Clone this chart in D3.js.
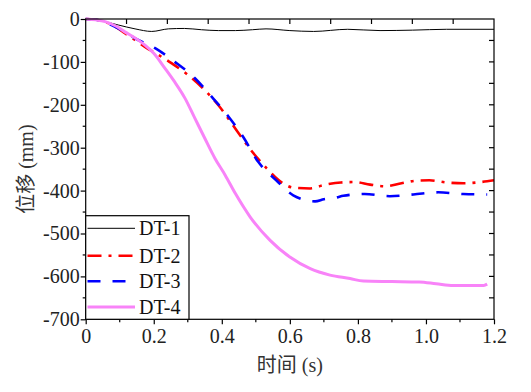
<!DOCTYPE html>
<html><head><meta charset="utf-8">
<script src="https://cdn.jsdelivr.net/npm/d3@7"></script>
<style>
body{margin:0;background:#fff;font-family:'Liberation Serif';}
svg{display:block;}
</style></head>
<body><svg id="c" width="531" height="392" font-family="Liberation Serif"></svg>
<script>
const xTicks=[0,0.2,0.4,0.6,0.8,1.0,1.2];
const yTicks=[0,-100,-200,-300,-400,-500,-600,-700];
const seriesNames=["DT-1","DT-2","DT-3","DT-4"];
const t1=[0,0.05,0.096,0.145,0.194,0.243,0.29,0.34,0.39,0.44,0.49,0.53,0.60,0.67,0.77,0.865,0.96,1.06,1.2];
const v1=[0,-5,-14,-23,-29,-23,-22,-25,-27,-27,-25,-23,-27,-29,-24,-27,-26,-24,-24];
const t2=[0,0.04,0.08,0.115,0.145,0.174,0.21,0.252,0.3,0.34,0.39,0.45,0.49,0.532,0.58,0.61,0.66,0.70,0.75,0.79,0.836,0.88,0.928,0.97,1.01,1.06,1.11,1.15,1.2];
const v2=[0,-3,-15,-33,-49,-65,-82,-103,-130,-158,-201,-267,-310,-348,-383,-393,-395,-387,-381,-380,-386,-390,-383,-377,-376,-381,-383,-381,-376];
const t3=[0,0.04,0.076,0.11,0.145,0.204,0.262,0.321,0.37,0.42,0.463,0.507,0.56,0.61,0.674,0.70,0.737,0.757,0.82,0.894,0.963,1.036,1.11,1.18];
const v3=[0,-3,-14,-28,-45,-68,-100,-138,-181,-228,-275,-333,-376,-411,-425,-420,-416,-412,-408,-413,-409,-404,-408,-409];
const t4=[0,0.03,0.057,0.09,0.115,0.145,0.174,0.2,0.233,0.26,0.292,0.32,0.35,0.38,0.41,0.44,0.483,0.542,0.60,0.66,0.718,0.777,0.816,0.9,0.98,1.03,1.08,1.17,1.18];
const v4=[0,-2,-6,-17,-30,-44,-61,-80,-115,-145,-185,-230,-278,-325,-364,-407,-461,-516,-555,-582,-597,-605,-611,-612,-613,-617,-621,-621,-618];

const L=85.7,R=494,T=19,B=319.3;
const svg=d3.select("#c");
const x=d3.scaleLinear().domain([0,1.2]).range([L,R]);
const y=d3.scaleLinear().domain([-700,0]).range([B,T]);

const styles=[
 {color:"#000000",w:1,dash:null},
 {color:"#ff0000",w:2.6,dash:"14,7,3,7"},
 {color:"#0000ff",w:2.6,dash:"13,12"},
 {color:"#f883f8",w:3,dash:null}
];
const data=[[t1,v1],[t2,v2],[t3,v3],[t4,v4]];
const line=d3.line().x(d=>x(d[0])).y(d=>y(d[1])).curve(d3.curveMonotoneX);
data.forEach((s,i)=>{
  const pts=s[0].map((t,j)=>[t,s[1][j]]);
  svg.append("path").attr("d",line(pts)).attr("fill","none")
   .attr("stroke",styles[i].color).attr("stroke-width",styles[i].w)
   .attr("stroke-dasharray",styles[i].dash);
});

svg.append("rect").attr("x",L).attr("y",T).attr("width",R-L).attr("height",B-T)
 .attr("fill","none").attr("stroke","#000").attr("stroke-width",1.2);

const fs=20;
const gx=svg.append("g").attr("transform",`translate(0,${B})`)
 .call(d3.axisBottom(x).tickValues(xTicks).tickSize(5).tickFormat(d=>d===0?"0":d.toFixed(1)));
gx.select(".domain").remove();
gx.attr("font-family","Liberation Serif").attr("font-size",fs);
gx.selectAll("text").attr("fill","#222").attr("dy","0.71em").attr("y",10);
gx.selectAll("line").attr("stroke-width",1.2);
const xMinor=d3.range(0.1,1.2,0.2);
svg.append("g").selectAll("line").data(xMinor).join("line")
 .attr("x1",d=>x(d)).attr("x2",d=>x(d)).attr("y1",B).attr("y2",B+3).attr("stroke","#000").attr("stroke-width",1.2);
const topT=d3.range(1,10).map(k=>k*0.12);
svg.append("g").selectAll("line").data(topT).join("line")
 .attr("x1",d=>x(d)).attr("x2",d=>x(d)).attr("y1",T).attr("y2",T+5).attr("stroke","#000").attr("stroke-width",1.2);

const gy=svg.append("g").attr("transform",`translate(${L},0)`)
 .call(d3.axisLeft(y).tickValues(yTicks).tickSize(5).tickFormat(d=>String(d)));
gy.select(".domain").remove();
gy.attr("font-family","Liberation Serif").attr("font-size",fs);
gy.selectAll("text").attr("fill","#222").attr("x",-6);
gy.selectAll("line").attr("stroke-width",1.2);
const yMinor=d3.range(-650,0,100);
svg.append("g").selectAll("line").data(yMinor).join("line")
 .attr("x1",L-3).attr("x2",L).attr("y1",d=>y(d)).attr("y2",d=>y(d)).attr("stroke","#000").attr("stroke-width",1.2);
const rT=d3.range(-650,0,50);
svg.append("g").selectAll("line").data(rT).join("line")
 .attr("x1",R-5).attr("x2",R).attr("y1",d=>y(d)).attr("y2",d=>y(d)).attr("stroke","#000").attr("stroke-width",1.2);

const xt=svg.append("text").attr("x",(L+R)/2).attr("y",372).attr("text-anchor","middle")
 .attr("font-size",20).attr("fill","#333");
xt.append("tspan").attr("font-family","Noto Sans CJK SC").text("时间");
xt.append("tspan").attr("font-family","Liberation Serif").text(" (s)");
const yt=svg.append("text").attr("transform",`translate(33,${(T+B)/2}) rotate(-90)`).attr("text-anchor","middle")
 .attr("font-size",20).attr("fill","#333");
yt.append("tspan").attr("font-family","Noto Sans CJK SC").text("位移");
yt.append("tspan").attr("font-family","Liberation Serif").text(" (mm)");

const lg=svg.append("g").attr("font-family","Liberation Serif").attr("font-size",20);
lg.append("rect").attr("x",L).attr("y",215.7).attr("width",189-L).attr("height",B-215.7)
 .attr("fill","#fff").attr("stroke","#000").attr("stroke-width",1.2);
const ly=[228.3,255.7,281.3,307];
seriesNames.forEach((n,i)=>{
  lg.append("line").attr("x1",87.5).attr("x2",135).attr("y1",ly[i]).attr("y2",ly[i])
   .attr("stroke",styles[i].color).attr("stroke-width",styles[i].w).attr("stroke-dasharray",styles[i].dash);
  lg.append("text").attr("x",139).attr("y",ly[i]).attr("dy","0.35em").attr("fill","#111").text(n);
});
</script></body></html>
